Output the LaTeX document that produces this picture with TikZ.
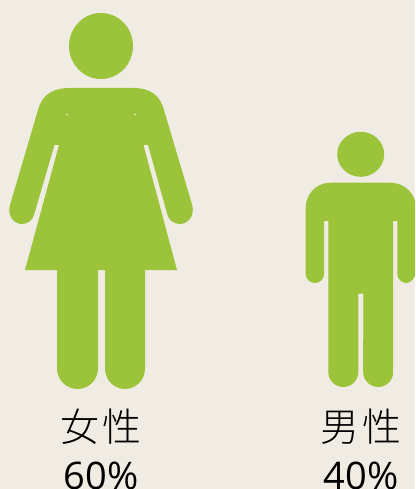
\documentclass[tikz,border=0pt]{standalone}
\usepackage{fontspec}
\newfontfamily\cjk{Noto Sans CJK JP Light}
\setmainfont{Open Sans}
\definecolor{bg}{HTML}{F0ECE3}
\definecolor{leaf}{HTML}{9CC43A}
\begin{document}
\begin{tikzpicture}[x=1pt,y=-1pt,
  figure/.style={fill=leaf,draw=none},
  gaptick/.style={draw=bg,line width=0.4pt},
  cjklabel/.style={inner sep=0pt,text=black,font=\cjk\fontsize{39}{39}\selectfont},
  numlabel/.style={inner sep=0pt,anchor=base,text=black,font=\fontsize{38}{38}\selectfont}]
\useasboundingbox (0,0) rectangle (415,489);
\fill[bg] (0,0) rectangle (415,489);
\begin{scope}
\clip (0,0) rectangle (415,489);
% woman
\fill[figure] (101,46) ellipse [x radius=32, y radius=33];
\fill[figure] (70,88) -- (133,88)
  .. controls (150,88) and (160,95) .. (164,110)
  -- (192.2,205)
  .. controls (195,216) and (188,224) .. (180,224)
  .. controls (174,224) and (169,220) .. (167.5,215)
  -- (148,145) -- (143.5,145)
  -- (177,270) -- (145,270) -- (145,368.5)
  arc [start angle=0, end angle=180, x radius=20, y radius=20.5]
  -- (105,270) -- (98,270) -- (98,368.5)
  arc [start angle=0, end angle=180, x radius=20.5, y radius=20.5]
  -- (57,270) -- (25,270) -- (59,145) -- (54.5,145)
  -- (34,215)
  .. controls (32.5,220) and (28,224) .. (22,224)
  .. controls (14,224) and (7,216) .. (10,205)
  -- (38,110)
  .. controls (42,95) and (52,88) .. (70,88) -- cycle;
\draw[gaptick] (66,114) -- (68,114);
\draw[gaptick] (134,114) -- (136,114);
% man
\fill[figure] (360.7,154.3) ellipse [x radius=23.5, y radius=22.5];
\fill[figure] (331,182.7) -- (390,182.7)
  .. controls (405,182.7) and (416,194) .. (416,208)
  -- (416,270)
  .. controls (416,278) and (411,283) .. (406,283)
  .. controls (401,283) and (397.3,278) .. (397.3,274)
  -- (397.3,221) -- (393.2,221) -- (393.2,372)
  arc [start angle=0, end angle=180, x radius=15, y radius=15]
  -- (363.3,293.5) -- (358.3,293.5) -- (358.3,372)
  arc [start angle=0, end angle=180, x radius=15, y radius=15]
  -- (328.3,221) -- (324,221) -- (324,274)
  .. controls (324,279) and (320,283) .. (315,283)
  .. controls (310,283) and (305.7,279) .. (305.7,274)
  -- (305.7,208)
  .. controls (305.7,194) and (316,182.7) .. (331,182.7) -- cycle;
% labels
\node[cjklabel] (womanlabel) at (101,426.5) {女\hspace{3pt}性};
\node[cjklabel] (manlabel) at (361,426.5) {男\hspace{3pt}性};
\node[numlabel] (womanpct) at (101,489) {60\%};
\node[numlabel] (manpct) at (361,489) {40\%};
\end{scope}
\end{tikzpicture}
\end{document}
